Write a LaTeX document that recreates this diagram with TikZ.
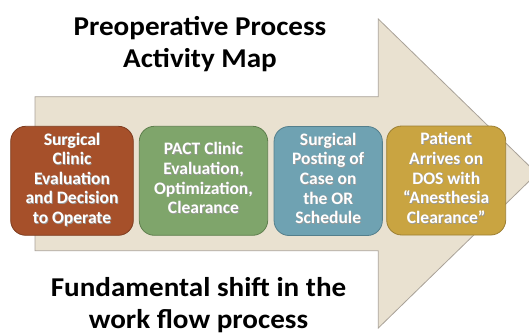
\documentclass[tikz,border=0pt]{standalone}
\usepackage{fontspec}
\setmainfont{Carlito}
\newfontfamily\headfont[FakeStretch=1.07]{Carlito}
\definecolor{arrowbg}{HTML}{E9E1D0}
\definecolor{arrowedge}{HTML}{A9A298}
\definecolor{brownfill}{HTML}{A6502A}
\definecolor{brownedge}{HTML}{7E3C1F}
\definecolor{greenfill}{HTML}{7FA56B}
\definecolor{greenedge}{HTML}{5F7F4E}
\definecolor{bluefill}{HTML}{6FA2B2}
\definecolor{blueedge}{HTML}{547F8C}
\definecolor{goldfill}{HTML}{C9A441}
\definecolor{goldedge}{HTML}{9C7F32}
% white text with a soft dark shadow behind it, set slightly low in the box
\newcommand\shadowed[1]{\raisebox{-2pt}{\rlap{\kern0.8pt\raisebox{-0.8pt}{\color{black!40}\begin{tabular}{@{}c@{}}#1\end{tabular}}}\begin{tabular}{@{}c@{}}#1\end{tabular}}}
\tikzset{
  stepbox/.style={draw, line width=0.8pt, rounded corners=15pt, minimum width=122pt,
    minimum height=109pt, inner sep=0pt, text=white,
    font=\fontsize{17.5}{19.6}\selectfont\bfseries},
  headline/.style={align=center, font=\headfont\fontsize{27.2}{32}\selectfont\bfseries, text=black, inner sep=0pt},
  bigarrow/.style={fill=arrowbg, draw=arrowedge, line width=0.8pt}
}
\begin{document}
\begin{tikzpicture}[x=1pt,y=-1pt]
\useasboundingbox (0,0) rectangle (529,335);
\begin{scope}
  \clip (0,0) rectangle (529,335);
  \draw[bigarrow] (35,96.7) -- (378.3,96.7) -- (378.3,19) -- (537,173.5)
    -- (378.3,328) -- (378.3,250.7) -- (35,250.7) -- cycle;
\end{scope}

\node[headline] (title) at (200,44) {Preoperative Process\\Activity Map};
\node[headline] (shift) at (198.5,305) {Fundamental shift in the\\work flow process};

\node[stepbox, fill=brownfill, draw=brownedge, minimum width=122.6pt] (s1) at (72,180.8)
  {\shadowed{Surgical\\Clinic\\Evaluation\\and Decision\\to Operate}};
\node[stepbox, fill=greenfill, draw=greenedge, minimum width=128.4pt] (s2) at (203.5,180.8)
  {\shadowed{PACT Clinic\\Evaluation,\\Optimization,\\Clearance}};
\node[stepbox, fill=bluefill, draw=blueedge, minimum width=108.3pt] (s3) at (328.2,181)
  {\shadowed{Surgical\\Posting of\\Case on\\the OR\\Schedule}};
\node[stepbox, fill=goldfill, draw=goldedge, minimum width=119pt] (s4) at (446.2,180.5)
  {\shadowed{Patient\\Arrives on\\DOS with\\“Anesthesia\\Clearance”}};
\end{tikzpicture}
\end{document}
